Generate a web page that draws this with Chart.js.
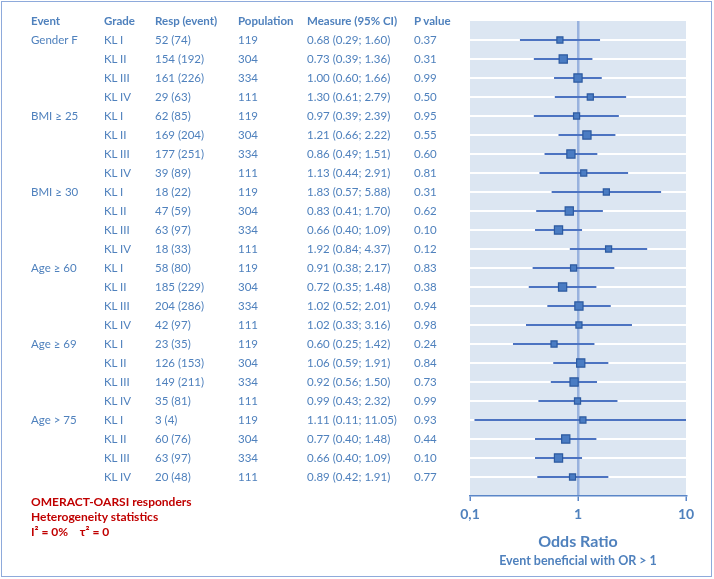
<!DOCTYPE html>
<html>
<head>
<meta charset="utf-8">
<script src="https://cdn.jsdelivr.net/npm/chart.js@4"></script>
<style>
  html, body { margin: 0; padding: 0; background: #fff; }
  #wrap { position: relative; width: 714px; height: 579px; overflow: hidden; font-family: Lato, "Liberation Sans", sans-serif; }
  #frame { position: absolute; left: 1px; top: 1px; width: 709px; height: 574px; border: 1.5px solid #8eaadb; }
  canvas { position: absolute; left: 0; top: 0; }
  .cell { position: absolute; color: #4f81bd; font-size: 11.5px; line-height: 14px; white-space: nowrap; }
  .head { font-weight: bold; }
  .note { position: absolute; left: 31px; color: #c00000; font-weight: bold; font-size: 12px; line-height: 14px; white-space: nowrap; }
  .axt { position: absolute; color: #4f81bd; font-weight: bold; white-space: nowrap; transform: translateX(-50%); }
</style>
</head>
<body>
<div id="wrap">
  <div id="frame"></div>
  <canvas id="forest" width="714" height="579"></canvas>
</div>
<script>
const events = ['Gender F', 'BMI ≥ 25', 'BMI ≥ 30', 'Age ≥ 60', 'Age ≥ 69', 'Age > 75'];
const grades = ['KL I', 'KL II', 'KL III', 'KL IV'];
const responders = [52, 154, 161, 29, 62, 169, 177, 39, 18, 47, 63, 18, 58, 185, 204, 42, 23, 126, 149, 35, 3, 60, 63, 20];
const eventCounts = [74, 192, 226, 63, 85, 204, 251, 89, 22, 59, 97, 33, 80, 229, 286, 97, 35, 153, 211, 81, 4, 76, 97, 48];
const population = [119, 304, 334, 111, 119, 304, 334, 111, 119, 304, 334, 111, 119, 304, 334, 111, 119, 304, 334, 111, 119, 304, 334, 111];
const oddsRatio = [0.68, 0.73, 1.00, 1.30, 0.97, 1.21, 0.86, 1.13, 1.83, 0.83, 0.66, 1.92, 0.91, 0.72, 1.02, 1.02, 0.60, 1.06, 0.92, 0.99, 1.11, 0.77, 0.66, 0.89];
const ciLow = [0.29, 0.39, 0.60, 0.61, 0.39, 0.66, 0.49, 0.44, 0.57, 0.41, 0.40, 0.84, 0.38, 0.35, 0.52, 0.33, 0.25, 0.59, 0.56, 0.43, 0.11, 0.40, 0.40, 0.42];
const ciHigh = [1.60, 1.36, 1.66, 2.79, 2.39, 2.22, 1.51, 2.91, 5.88, 1.70, 1.09, 4.37, 2.17, 1.48, 2.01, 3.16, 1.42, 1.91, 1.50, 2.32, 11.05, 1.48, 1.09, 1.91];
const pValues = ['0.37', '0.31', '0.99', '0.50', '0.95', '0.55', '0.60', '0.81', '0.31', '0.62', '0.10', '0.12', '0.83', '0.38', '0.94', '0.98', '0.24', '0.84', '0.73', '0.99', '0.93', '0.44', '0.10', '0.77'];
const xTicks = [0.1, 1, 10];
const xTickLabels = ['0,1', '1', '10'];

const blue = '#4f81bd';
const rows = oddsRatio.map((v, i) => i);

const ciSets = rows.map(i => ({
  type: 'line',
  data: [{ x: ciLow[i], y: i }, { x: ciHigh[i], y: i }],
  borderColor: 'rgba(56,100,186,0.9)',
  borderWidth: 1.8,
  pointRadius: 0,
  order: 2,
}));

const plotBg = {
  id: 'plotBg',
  beforeDraw(chart) {
    const { ctx, chartArea: a } = chart;
    ctx.save();
    ctx.fillStyle = '#dce6f2';
    ctx.fillRect(a.left, a.top, a.right - a.left, a.bottom - a.top);
    ctx.restore();
  },
};

const chart = new Chart(document.getElementById('forest'), {
  type: 'scatter',
  data: {
    datasets: [{
      data: rows.map(i => ({ x: oddsRatio[i], y: i })),
      pointStyle: 'rect',
      pointRadius: rows.map(i => (population[i] > 200 ? 5.8 : 4.3)),
      backgroundColor: '#4a7cc3',
      borderColor: '#2c5aa0',
      borderWidth: 1.2,
      order: 0,
    }, ...ciSets],
  },
  options: {
    responsive: false,
    animation: false,
    layout: { padding: { left: 470, right: 28, top: 21, bottom: 0 } },
    plugins: { legend: { display: false }, tooltip: { enabled: false } },
    scales: {
      x: {
        type: 'logarithmic',
        min: 0.1,
        max: 10,
        afterBuildTicks: s => { s.ticks = xTicks.map(v => ({ value: v })); },
        afterFit: s => { s.height = 83; },
        ticks: {
          callback: (v, i) => xTickLabels[i],
          color: blue,
          font: { family: 'Lato', size: 14, weight: 'bold' },
          padding: 5,
          maxRotation: 0,
        },
        grid: {
          color: c => (c.tick && c.tick.value === 1 ? 'rgba(130,160,215,0.75)' : 'rgba(0,0,0,0)'),
          lineWidth: 2.5,
          tickColor: '#5a86c8',
          tickWidth: 1.5,
          tickLength: 5,
        },
        border: { display: true, color: '#5a86c8', width: 1.5 },
      },
      y: {
        type: 'linear',
        min: -1,
        max: 24,
        reverse: true,
        afterBuildTicks: s => { s.ticks = rows.map(v => ({ value: v })); },
        afterFit: s => { s.width = 0; },
        ticks: { display: false },
        grid: { color: '#ffffff', lineWidth: 2, drawTicks: false },
        border: { display: false },
      },
    },
  },
  plugins: [plotBg],
});

// table text, placed on the rows of the chart's y scale
const wrap = document.getElementById('wrap');
function addText(cls, text, x, y, extra) {
  const d = document.createElement('div');
  d.className = cls;
  d.textContent = text;
  d.style.left = x + 'px';
  d.style.top = (y - 7) + 'px';
  if (extra) Object.assign(d.style, extra);
  wrap.appendChild(d);
  return d;
}
const cols = [31, 104, 155, 238, 307, 414];
const heads = ['Event', 'Grade', 'Resp (event)', 'Population', 'Measure (95% CI)', 'P value'];
heads.forEach((h, k) => addText('cell head', h, cols[k], 21));
const yS = chart.scales.y;
rows.forEach(i => {
  const y = yS.getPixelForValue(i);
  if (i % 4 === 0) addText('cell', events[i / 4], cols[0], y);
  addText('cell', grades[i % 4], cols[1], y);
  addText('cell', responders[i] + ' (' + eventCounts[i] + ')', cols[2], y);
  addText('cell', String(population[i]), cols[3], y);
  addText('cell', oddsRatio[i].toFixed(2) + ' (' + ciLow[i].toFixed(2) + '; ' + ciHigh[i].toFixed(2) + ')', cols[4], y);
  addText('cell', pValues[i], cols[5], y);
});

addText('note', 'OMERACT-OARSI responders', 31, 502);
addText('note', 'Heterogeneity statistics', 31, 517);
const het = addText('note', '', 31, 532);
het.innerHTML = 'I² = 0%&nbsp;&nbsp;&nbsp;&nbsp;τ² = 0';

const xMid = chart.scales.x.getPixelForValue(1);
addText('axt', 'Odds Ratio', xMid, 541, { fontSize: '16px', lineHeight: '14px' });
addText('axt', 'Event beneficial with OR > 1', xMid, 561, { fontSize: '12.5px', lineHeight: '14px' });
</script>
</body>
</html>
